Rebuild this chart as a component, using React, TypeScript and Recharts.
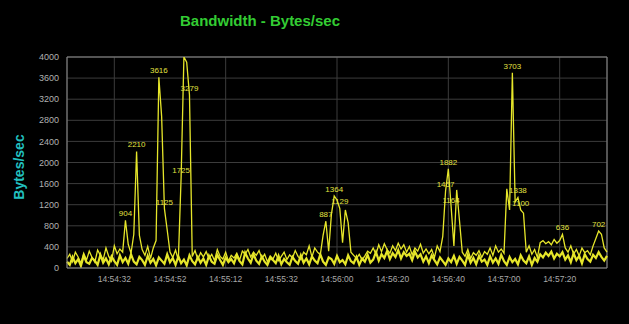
import React from 'react';
import {
  LineChart,
  Line,
  XAxis,
  YAxis,
  CartesianGrid,
  ReferenceLine,
  LabelList,
} from 'recharts';

// one sample per index
const bytesPerSec = [
  180, 260, 120, 300, 210, 90, 280, 150, 320, 200,
  110, 340, 240, 160, 380, 220, 130, 420, 270, 360,
  300, 904, 450, 280, 640, 2210, 620, 350, 240, 410,
  180, 380, 520, 3616, 2870, 1125, 720, 300, 200, 340,
  150, 1725, 4000, 3900, 3279, 220, 330, 160, 290, 210,
  310, 180, 260, 140, 350, 220, 170, 300, 130, 240,
  190, 280, 150, 320, 260, 350, 210, 300, 240, 330,
  180, 260, 120, 230, 170, 280, 140, 220, 300, 160,
  250, 190, 330, 220, 160, 300, 250, 420, 210, 380,
  300, 250, 620, 887, 320, 1020, 1364, 1290, 1129, 480,
  1100, 860, 300, 240, 180, 260, 150, 230, 320, 280,
  380, 260, 440, 310, 460, 350, 280, 420, 330, 470,
  360, 440, 300, 410, 250, 380, 320, 450, 280, 360,
  270, 350, 200, 420, 310, 600, 1457, 1882, 1164, 420,
  1480, 900, 300, 220, 350, 180, 290, 240, 330, 200,
  310, 260, 380, 240, 420, 300, 360, 280, 1500, 1100,
  3703, 1250, 1338, 1100, 1040, 300, 420, 260, 350, 200,
  480, 520, 460, 500, 440, 540, 470, 520, 636, 380,
  300, 420, 260, 350, 230, 380, 290, 330, 250, 420,
  560, 702, 640, 380, 300,
];

// the low, busy traffic that makes the thick band along the floor
const floorBytes = [
  120, 60, 210, 90, 170, 40, 230, 110, 80, 190,
  140, 60, 250, 100, 180, 70, 220, 130, 60, 240,
  110, 190, 80, 260, 120, 70, 210, 150, 60, 230,
  100, 170, 50, 200, 140, 80, 260, 110, 190, 60,
  220, 90, 160, 50, 240, 130, 70, 210, 100, 180,
  60, 230, 120, 80, 250, 150, 60, 200, 110, 170,
  90, 240, 130, 70, 290, 180, 100, 260, 140, 80,
  220, 120, 60, 190, 150, 90, 230, 70, 170, 110,
  60, 210, 130, 80, 240, 100, 180, 70, 220, 140,
  90, 260, 120, 60, 200, 170, 80, 230, 110, 150,
  70, 240, 130, 90, 210, 60, 180, 120, 250, 100,
  160, 300, 140, 260, 190, 320, 170, 280, 210, 340,
  180, 300, 230, 270, 150, 310, 200, 260, 120, 220,
  90, 240, 150, 70, 200, 130, 60, 180, 110, 230,
  80, 210, 140, 60, 250, 100, 190, 70, 230, 120,
  160, 60, 220, 100, 180, 80, 250, 130, 60, 210,
  110, 170, 70, 240, 140, 90, 220, 60, 190, 120,
  260, 200, 290, 230, 310, 180, 270, 220, 300, 160,
  240, 110, 280, 150, 230, 90, 260, 170, 120, 250,
  190, 300, 210, 140, 230,
];

// samples that carry a value label
const labelledIdx = [21, 25, 33, 35, 41, 44, 93, 96, 98, 136, 137, 138, 160, 162, 163, 178, 191];

const tickIdx = [17, 37, 57, 77, 97, 117, 137, 157, 177];
const tickLabels = [
  '14:54:32', '14:54:52', '14:55:12', '14:55:32', '14:56:00',
  '14:56:20', '14:56:40', '14:57:00', '14:57:20',
];
const yTicks = [0, 400, 800, 1200, 1600, 2000, 2400, 2800, 3200, 3600, 4000];

const data = bytesPerSec.map((v, i) => ({
  i,
  v,
  floor: floorBytes[i],
  label: labelledIdx.includes(i) ? String(v) : undefined,
}));

const App: React.FC = () => {
  return (
    <div
      style={{
        position: 'absolute',
        left: 0,
        top: 0,
        width: 629,
        height: 324,
        background: '#000',
        fontFamily: 'Arial, "Liberation Sans", sans-serif',
      }}
    >
      <div
        style={{
          position: 'absolute',
          left: 160,
          top: 12,
          width: 200,
          textAlign: 'center',
          color: '#33cc33',
          fontSize: 15,
          fontWeight: 'bold',
        }}
      >
        Bandwidth - Bytes/sec
      </div>
      <div
        style={{
          position: 'absolute',
          left: 19,
          top: 167,
          transform: 'translate(-50%, -50%) rotate(-90deg)',
          color: '#22c0c0',
          fontSize: 14,
          fontWeight: 'bold',
          whiteSpace: 'nowrap',
        }}
      >
        Bytes/sec
      </div>
      <LineChart
        width={629}
        height={324}
        data={data}
        margin={{ top: 57, right: 22, left: 12, bottom: 26 }}
      >
        <CartesianGrid stroke="#3c3c3c" />
        <XAxis
          dataKey="i"
          type="number"
          domain={[0, bytesPerSec.length - 1]}
          ticks={tickIdx}
          tickFormatter={(t: number) => tickLabels[tickIdx.indexOf(t)] ?? ''}
          tick={{ fill: '#a8a8a8', fontSize: 8.5 }}
          tickLine={false}
          axisLine={{ stroke: '#8a8a8a' }}
          height={30}
        />
        <YAxis
          domain={[0, 4000]}
          ticks={yTicks}
          interval={0}
          tick={{ fill: '#b0b0b0', fontSize: 9 }}
          tickLine={false}
          axisLine={{ stroke: '#8a8a8a' }}
          width={55}
          allowDataOverflow
        />
        <ReferenceLine y={4000} stroke="#8a8a8a" />
        <ReferenceLine x={bytesPerSec.length - 1} stroke="#8a8a8a" />
        <Line
          type="linear"
          dataKey="floor"
          stroke="#e6e62a"
          strokeWidth={2.2}
          dot={false}
          isAnimationActive={false}
        />
        <Line
          type="linear"
          dataKey="v"
          stroke="#e6e62a"
          strokeWidth={1.3}
          dot={false}
          isAnimationActive={false}
        >
          <LabelList dataKey="label" position="top" offset={4} fill="#e0e040" fontSize={8} />
        </Line>
      </LineChart>
    </div>
  );
};

export default App;
